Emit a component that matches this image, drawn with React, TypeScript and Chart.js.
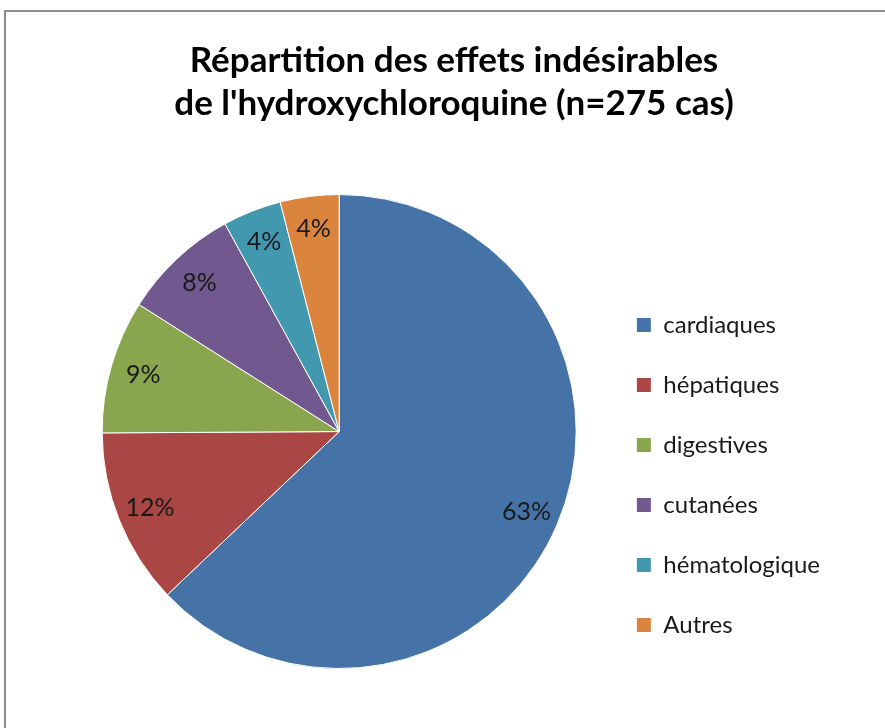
import React, { useEffect, useRef } from "react";
import { Chart, registerables } from "chart.js";

Chart.register(...registerables);

const categories = ["cardiaques", "hépatiques", "digestives", "cutanées", "hématologique", "Autres"];
const cases = [173, 33, 25, 22, 11, 11];
const colors = ["#4572A7", "#AA4643", "#89A54E", "#71588F", "#4198AF", "#DB843D"];
const titleLines = ["Répartition des effets indésirables", "de l'hydroxychloroquine (n=275 cas)"];

const FONT = "Lato, 'Open Sans', sans-serif";

const pctLabels = {
  id: "pctLabels",
  afterDatasetsDraw(chart: any) {
    const ctx = chart.ctx;
    const meta = chart.getDatasetMeta(0);
    const data = chart.data.datasets[0].data as number[];
    const total = data.reduce((a, b) => a + b, 0);
    ctx.save();
    ctx.font = `25px ${FONT}`;
    ctx.fillStyle = "#1a1a1a";
    ctx.textAlign = "center";
    ctx.textBaseline = "middle";
    meta.data.forEach((arc: any, i: number) => {
      const p = arc.getProps(["x", "y", "startAngle", "endAngle", "outerRadius"], true);
      const mid = (p.startAngle + p.endAngle) / 2;
      const r = p.outerRadius * 0.86;
      const x = p.x + Math.cos(mid) * r;
      const y = p.y + Math.sin(mid) * r;
      ctx.fillText(Math.round((data[i] / total) * 100) + "%", x, y);
    });
    ctx.restore();
  },
};

export default function App() {
  const ref = useRef<HTMLCanvasElement>(null);
  useEffect(() => {
    if (!ref.current) return;
    const chart = new Chart(ref.current, {
      type: "pie",
      data: {
        labels: categories,
        datasets: [
          {
            data: cases,
            backgroundColor: colors,
            borderColor: "#ffffff",
            borderWidth: 1,
            hoverOffset: 0,
          },
        ],
      },
      options: {
        responsive: false,
        animation: false,
        radius: 237,
        layout: { padding: { top: 12, bottom: 55, left: 78, right: 55 } },
        plugins: {
          title: {
            display: true,
            text: titleLines,
            color: "#000",
            font: { family: FONT, size: 35, weight: "bold", lineHeight: 1.23 },
            padding: { top: 27, bottom: 65 },
          },
          legend: {
            position: "right",
            align: "end",
            labels: {
              color: "#1a1a1a",
              font: { family: FONT, size: 24 },
              boxWidth: 15,
              boxHeight: 15,
              padding: 36,
            },
          },
          tooltip: { enabled: false },
        },
      },
      plugins: [pctLabels],
    });
    return () => chart.destroy();
  }, []);
  return (
    <div style={{ position: "fixed", left: 0, top: 0, width: 885, height: 728, background: "#fff", overflow: "hidden" }}>
      <div
        style={{
          position: "absolute",
          left: 4,
          top: 10,
          width: 900,
          height: 740,
          borderLeft: "2px solid #8c8c8c",
          borderTop: "2px solid #8c8c8c",
        }}
      />
      <canvas ref={ref} width={885} height={728} style={{ position: "absolute", left: 0, top: 0 }} />
    </div>
  );
}
